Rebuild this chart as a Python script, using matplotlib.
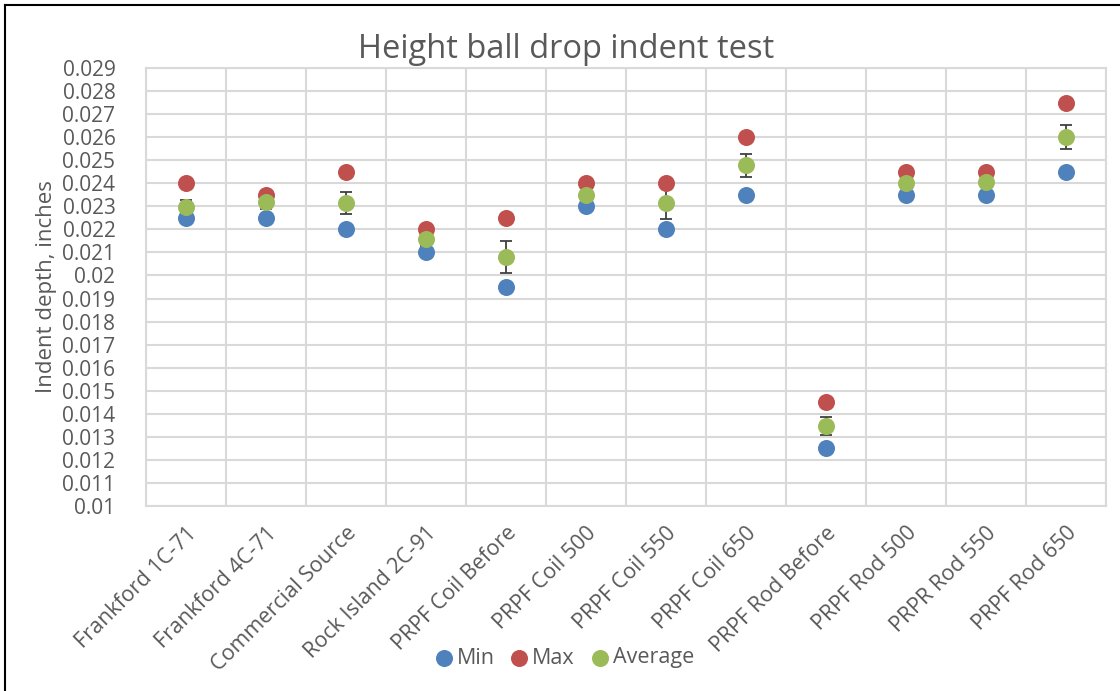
import numpy as np
import matplotlib.pyplot as plt
from matplotlib.ticker import FixedLocator, FuncFormatter

plt.rcParams['font.family'] = ['Open Sans', 'DejaVu Sans']

categories = ['Frankford 1C-71', 'Frankford 4C-71', 'Commercial Source',
              'Rock Island 2C-91', 'PRPF Coil Before', 'PRPF Coil 500',
              'PRPF Coil 550', 'PRPF Coil 650', 'PRPF Rod Before',
              'PRPF Rod 500', 'PRPR Rod 550', 'PRPF Rod 650']
min_vals = [0.0225, 0.0225, 0.022, 0.021, 0.0195, 0.023,
            0.022, 0.0235, 0.0125, 0.0235, 0.0235, 0.0245]
max_vals = [0.024, 0.0235, 0.0245, 0.022, 0.0225, 0.024,
            0.024, 0.026, 0.0145, 0.0245, 0.0245, 0.0275]
avg_vals = [0.02297, 0.0232, 0.02315, 0.0216, 0.0208, 0.0235,
            0.02313, 0.02478, 0.01347, 0.0240, 0.02407, 0.0260]
avg_err = [0.0003, 0.0003, 0.00048, 0.0003, 0.00068, 0.00015,
           0.0007, 0.00049, 0.0004, 0.00015, 0.00024, 0.00053]

x = np.arange(len(categories))
grid_c = '#D9D9D9'
text_c = '#595959'

fig = plt.figure(figsize=(11.2, 6.91), dpi=100)
ax = fig.add_axes([146/1120, 1-506/691, (1106-146)/1120, (506-68)/691])

ax.errorbar(x, avg_vals, yerr=avg_err, fmt='none', ecolor='#404040',
            elinewidth=1.3, capsize=4, capthick=1.3, zorder=2)
ms = 150
ax.scatter(x, min_vals, s=ms, color='#4F81BD', label='Min', zorder=3, linewidths=0)
ax.scatter(x, max_vals, s=ms, color='#C0504D', label='Max', zorder=3, linewidths=0)
ax.scatter(x, avg_vals, s=ms, color='#9BBB59', label='Average', zorder=4, linewidths=0)

ax.set_xlim(-0.5, len(categories) - 0.5)
ax.set_ylim(0.01, 0.029)
ax.yaxis.set_major_locator(FixedLocator(np.round(np.arange(0.01, 0.02901, 0.001), 3)))
ax.yaxis.set_major_formatter(FuncFormatter(lambda v, p: f'{round(v, 3):g}'))
ax.set_xticks(x)
ax.set_xticklabels(categories, rotation=45, ha='right', rotation_mode='anchor')
ax.set_xticks(np.arange(-0.5, len(categories)), minor=True)

ax.grid(axis='y', which='major', color=grid_c, linewidth=1.5, zorder=0)
ax.grid(axis='x', which='minor', color=grid_c, linewidth=1.5, zorder=0)
ax.set_axisbelow(True)
for s in ax.spines.values():
    s.set_color(grid_c)
    s.set_linewidth(1.5)
ax.tick_params(axis='both', which='both', length=0, labelsize=15, colors=text_c)
ax.tick_params(axis='x', labelsize=15.5, pad=12)
ax.tick_params(axis='y', pad=22)

ax.set_ylabel('Indent depth, inches', fontsize=16, color=text_c, labelpad=4)
fig.text(566/1120, 1-49/691, 'Height ball drop indent test', fontsize=23.5,
         color=text_c, ha='center', va='center')

fig.legend(loc='center', bbox_to_anchor=(565/1120, 1-658/691), ncol=3, frameon=False,
           fontsize=15.5, handlelength=0.7, handletextpad=0.25, columnspacing=0.8,
           labelcolor=text_c, scatterpoints=1)

# outer chart border (top and left visible)
fig.add_artist(plt.Line2D([5/1120, 5/1120], [0, 1-5/691], color='black', linewidth=1.5))
fig.add_artist(plt.Line2D([5/1120, 1], [1-5/691, 1-5/691], color='black', linewidth=1.5))

plt.savefig('out.png', dpi=100)
